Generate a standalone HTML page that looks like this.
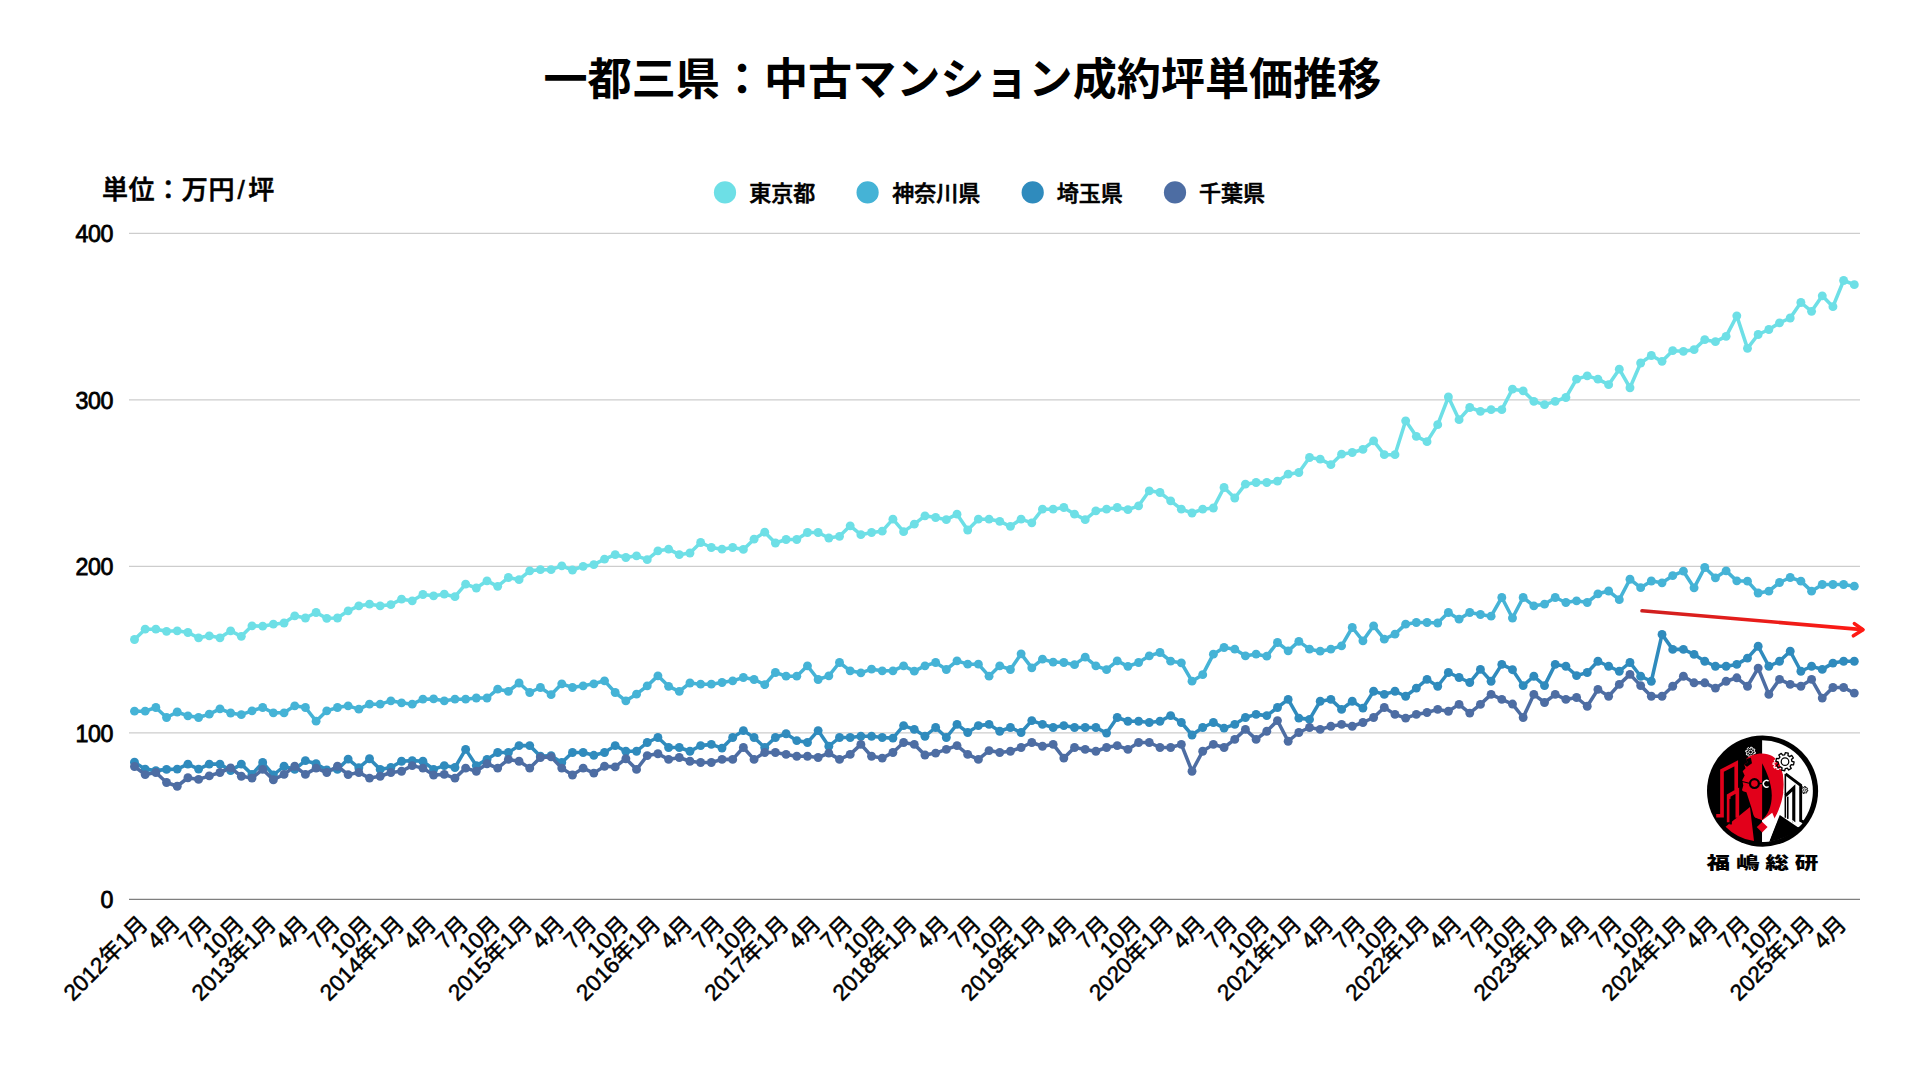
<!DOCTYPE html>
<html lang="ja"><head><meta charset="utf-8"><title>一都三県：中古マンション成約坪単価推移</title>
<style>html,body{margin:0;padding:0;background:#fff}body{width:1920px;height:1080px;overflow:hidden}svg{display:block}text{font-family:"Liberation Sans", "Noto Sans CJK JP", sans-serif;fill:#000}</style></head><body>
<svg width="1920" height="1080" viewBox="0 0 1920 1080">
<rect width="1920" height="1080" fill="#fff"/>
<text x="962.4" y="95" text-anchor="middle" font-size="44.1" font-weight="700">一都三県：中古マンション成約坪単価推移</text>
<text x="102" y="199" font-size="26" font-weight="500" stroke="#000" stroke-width="0.6" letter-spacing="0.6">単位：万円<tspan dx="2.5">/</tspan><tspan dx="3">坪</tspan></text>
<circle cx="725" cy="192.4" r="11.1" fill="#6ddfe6"/>
<text x="749.3" y="201" font-size="22" font-weight="500" stroke="#000" stroke-width="0.6">東京都</text>
<circle cx="867.6" cy="192.4" r="11.1" fill="#45b3d6"/>
<text x="892.3" y="201" font-size="22" font-weight="500" stroke="#000" stroke-width="0.6">神奈川県</text>
<circle cx="1032.7" cy="192.4" r="11.1" fill="#2f8bbd"/>
<text x="1056.7" y="201" font-size="22" font-weight="500" stroke="#000" stroke-width="0.6">埼玉県</text>
<circle cx="1175" cy="192.4" r="11.1" fill="#4d6da3"/>
<text x="1199" y="201" font-size="22" font-weight="500" stroke="#000" stroke-width="0.6">千葉県</text>
<line x1="129" x2="1860" y1="233.3" y2="233.3" stroke="#cdcdcd" stroke-width="1.2"/>
<text x="113" y="242.0" text-anchor="end" font-size="23.2" letter-spacing="-0.4" stroke="#000" stroke-width="0.8">400</text>
<line x1="129" x2="1860" y1="399.8" y2="399.8" stroke="#cdcdcd" stroke-width="1.2"/>
<text x="113" y="408.5" text-anchor="end" font-size="23.2" letter-spacing="-0.4" stroke="#000" stroke-width="0.8">300</text>
<line x1="129" x2="1860" y1="566.3" y2="566.3" stroke="#cdcdcd" stroke-width="1.2"/>
<text x="113" y="575.0" text-anchor="end" font-size="23.2" letter-spacing="-0.4" stroke="#000" stroke-width="0.8">200</text>
<line x1="129" x2="1860" y1="732.8" y2="732.8" stroke="#cdcdcd" stroke-width="1.2"/>
<text x="113" y="741.5" text-anchor="end" font-size="23.2" letter-spacing="-0.4" stroke="#000" stroke-width="0.8">100</text>
<line x1="129" x2="1860" y1="899.3" y2="899.3" stroke="#7f7f7f" stroke-width="1.3"/>
<text x="113" y="908.0" text-anchor="end" font-size="23.2" letter-spacing="-0.4" stroke="#000" stroke-width="0.8">0</text>
<text transform="translate(149.3 925.5) rotate(-45)" text-anchor="end" font-size="22.6" stroke="#000" stroke-width="0.5">2012年1月</text>
<text transform="translate(181.4 925.5) rotate(-45)" text-anchor="end" font-size="22.6" stroke="#000" stroke-width="0.5">4月</text>
<text transform="translate(213.4 925.5) rotate(-45)" text-anchor="end" font-size="22.6" stroke="#000" stroke-width="0.5">7月</text>
<text transform="translate(245.4 925.5) rotate(-45)" text-anchor="end" font-size="22.6" stroke="#000" stroke-width="0.5">10月</text>
<text transform="translate(277.5 925.5) rotate(-45)" text-anchor="end" font-size="22.6" stroke="#000" stroke-width="0.5">2013年1月</text>
<text transform="translate(309.5 925.5) rotate(-45)" text-anchor="end" font-size="22.6" stroke="#000" stroke-width="0.5">4月</text>
<text transform="translate(341.6 925.5) rotate(-45)" text-anchor="end" font-size="22.6" stroke="#000" stroke-width="0.5">7月</text>
<text transform="translate(373.6 925.5) rotate(-45)" text-anchor="end" font-size="22.6" stroke="#000" stroke-width="0.5">10月</text>
<text transform="translate(405.7 925.5) rotate(-45)" text-anchor="end" font-size="22.6" stroke="#000" stroke-width="0.5">2014年1月</text>
<text transform="translate(437.7 925.5) rotate(-45)" text-anchor="end" font-size="22.6" stroke="#000" stroke-width="0.5">4月</text>
<text transform="translate(469.8 925.5) rotate(-45)" text-anchor="end" font-size="22.6" stroke="#000" stroke-width="0.5">7月</text>
<text transform="translate(501.8 925.5) rotate(-45)" text-anchor="end" font-size="22.6" stroke="#000" stroke-width="0.5">10月</text>
<text transform="translate(533.8 925.5) rotate(-45)" text-anchor="end" font-size="22.6" stroke="#000" stroke-width="0.5">2015年1月</text>
<text transform="translate(565.9 925.5) rotate(-45)" text-anchor="end" font-size="22.6" stroke="#000" stroke-width="0.5">4月</text>
<text transform="translate(597.9 925.5) rotate(-45)" text-anchor="end" font-size="22.6" stroke="#000" stroke-width="0.5">7月</text>
<text transform="translate(630.0 925.5) rotate(-45)" text-anchor="end" font-size="22.6" stroke="#000" stroke-width="0.5">10月</text>
<text transform="translate(662.0 925.5) rotate(-45)" text-anchor="end" font-size="22.6" stroke="#000" stroke-width="0.5">2016年1月</text>
<text transform="translate(694.1 925.5) rotate(-45)" text-anchor="end" font-size="22.6" stroke="#000" stroke-width="0.5">4月</text>
<text transform="translate(726.1 925.5) rotate(-45)" text-anchor="end" font-size="22.6" stroke="#000" stroke-width="0.5">7月</text>
<text transform="translate(758.2 925.5) rotate(-45)" text-anchor="end" font-size="22.6" stroke="#000" stroke-width="0.5">10月</text>
<text transform="translate(790.2 925.5) rotate(-45)" text-anchor="end" font-size="22.6" stroke="#000" stroke-width="0.5">2017年1月</text>
<text transform="translate(822.3 925.5) rotate(-45)" text-anchor="end" font-size="22.6" stroke="#000" stroke-width="0.5">4月</text>
<text transform="translate(854.3 925.5) rotate(-45)" text-anchor="end" font-size="22.6" stroke="#000" stroke-width="0.5">7月</text>
<text transform="translate(886.4 925.5) rotate(-45)" text-anchor="end" font-size="22.6" stroke="#000" stroke-width="0.5">10月</text>
<text transform="translate(918.4 925.5) rotate(-45)" text-anchor="end" font-size="22.6" stroke="#000" stroke-width="0.5">2018年1月</text>
<text transform="translate(950.4 925.5) rotate(-45)" text-anchor="end" font-size="22.6" stroke="#000" stroke-width="0.5">4月</text>
<text transform="translate(982.5 925.5) rotate(-45)" text-anchor="end" font-size="22.6" stroke="#000" stroke-width="0.5">7月</text>
<text transform="translate(1014.5 925.5) rotate(-45)" text-anchor="end" font-size="22.6" stroke="#000" stroke-width="0.5">10月</text>
<text transform="translate(1046.6 925.5) rotate(-45)" text-anchor="end" font-size="22.6" stroke="#000" stroke-width="0.5">2019年1月</text>
<text transform="translate(1078.6 925.5) rotate(-45)" text-anchor="end" font-size="22.6" stroke="#000" stroke-width="0.5">4月</text>
<text transform="translate(1110.7 925.5) rotate(-45)" text-anchor="end" font-size="22.6" stroke="#000" stroke-width="0.5">7月</text>
<text transform="translate(1142.7 925.5) rotate(-45)" text-anchor="end" font-size="22.6" stroke="#000" stroke-width="0.5">10月</text>
<text transform="translate(1174.8 925.5) rotate(-45)" text-anchor="end" font-size="22.6" stroke="#000" stroke-width="0.5">2020年1月</text>
<text transform="translate(1206.8 925.5) rotate(-45)" text-anchor="end" font-size="22.6" stroke="#000" stroke-width="0.5">4月</text>
<text transform="translate(1238.9 925.5) rotate(-45)" text-anchor="end" font-size="22.6" stroke="#000" stroke-width="0.5">7月</text>
<text transform="translate(1270.9 925.5) rotate(-45)" text-anchor="end" font-size="22.6" stroke="#000" stroke-width="0.5">10月</text>
<text transform="translate(1303.0 925.5) rotate(-45)" text-anchor="end" font-size="22.6" stroke="#000" stroke-width="0.5">2021年1月</text>
<text transform="translate(1335.0 925.5) rotate(-45)" text-anchor="end" font-size="22.6" stroke="#000" stroke-width="0.5">4月</text>
<text transform="translate(1367.0 925.5) rotate(-45)" text-anchor="end" font-size="22.6" stroke="#000" stroke-width="0.5">7月</text>
<text transform="translate(1399.1 925.5) rotate(-45)" text-anchor="end" font-size="22.6" stroke="#000" stroke-width="0.5">10月</text>
<text transform="translate(1431.1 925.5) rotate(-45)" text-anchor="end" font-size="22.6" stroke="#000" stroke-width="0.5">2022年1月</text>
<text transform="translate(1463.2 925.5) rotate(-45)" text-anchor="end" font-size="22.6" stroke="#000" stroke-width="0.5">4月</text>
<text transform="translate(1495.2 925.5) rotate(-45)" text-anchor="end" font-size="22.6" stroke="#000" stroke-width="0.5">7月</text>
<text transform="translate(1527.3 925.5) rotate(-45)" text-anchor="end" font-size="22.6" stroke="#000" stroke-width="0.5">10月</text>
<text transform="translate(1559.3 925.5) rotate(-45)" text-anchor="end" font-size="22.6" stroke="#000" stroke-width="0.5">2023年1月</text>
<text transform="translate(1591.4 925.5) rotate(-45)" text-anchor="end" font-size="22.6" stroke="#000" stroke-width="0.5">4月</text>
<text transform="translate(1623.4 925.5) rotate(-45)" text-anchor="end" font-size="22.6" stroke="#000" stroke-width="0.5">7月</text>
<text transform="translate(1655.5 925.5) rotate(-45)" text-anchor="end" font-size="22.6" stroke="#000" stroke-width="0.5">10月</text>
<text transform="translate(1687.5 925.5) rotate(-45)" text-anchor="end" font-size="22.6" stroke="#000" stroke-width="0.5">2024年1月</text>
<text transform="translate(1719.5 925.5) rotate(-45)" text-anchor="end" font-size="22.6" stroke="#000" stroke-width="0.5">4月</text>
<text transform="translate(1751.6 925.5) rotate(-45)" text-anchor="end" font-size="22.6" stroke="#000" stroke-width="0.5">7月</text>
<text transform="translate(1783.6 925.5) rotate(-45)" text-anchor="end" font-size="22.6" stroke="#000" stroke-width="0.5">10月</text>
<text transform="translate(1815.7 925.5) rotate(-45)" text-anchor="end" font-size="22.6" stroke="#000" stroke-width="0.5">2025年1月</text>
<text transform="translate(1847.7 925.5) rotate(-45)" text-anchor="end" font-size="22.6" stroke="#000" stroke-width="0.5">4月</text>
<g fill="#6ddfe6" stroke="none">
<polyline points="134.5,639.5 145.18,629.17 155.86,629.17 166.55,631.33 177.23,630.83 187.91,632.5 198.59,637.83 209.27,635.83 219.96,637.83 230.64,630.83 241.32,636.33 252.0,625.83 262.68,626.17 273.37,624.17 284.05,623.0 294.73,615.83 305.41,618.0 316.09,612.5 326.78,618.33 337.46,618.0 348.14,610.83 358.82,605.83 369.5,604.17 380.19,605.83 390.87,604.67 401.55,599.17 412.23,600.83 422.91,594.5 433.6,595.83 444.28,594.17 454.96,596.67 465.64,584.17 476.32,588.0 487.01,580.83 497.69,586.33 508.37,577.5 519.05,579.67 529.73,570.83 540.42,569.67 551.1,569.67 561.78,565.83 572.46,570.0 583.14,566.33 593.83,564.67 604.51,559.17 615.19,554.67 625.87,557.5 636.55,555.83 647.24,559.67 657.92,550.83 668.6,549.17 679.28,554.67 689.96,553.0 700.65,542.5 711.33,547.5 722.01,549.17 732.69,547.5 743.37,549.42 754.06,539.17 764.74,532.17 775.42,543.0 786.1,539.5 796.78,539.5 807.47,532.5 818.15,532.5 828.83,538.0 839.51,536.33 850.19,525.83 860.88,534.67 871.56,532.5 882.24,531.17 892.92,519.17 903.6,531.67 914.29,524.17 924.97,515.83 935.65,517.5 946.33,519.67 957.01,514.17 967.7,530.0 978.38,519.17 989.06,519.17 999.74,521.33 1010.42,526.33 1021.11,519.17 1031.79,522.83 1042.47,509.17 1053.15,509.17 1063.83,507.5 1074.52,514.17 1085.2,519.67 1095.88,510.83 1106.56,509.17 1117.24,507.5 1127.93,509.67 1138.61,505.83 1149.29,490.83 1159.97,492.5 1170.65,500.83 1181.34,509.17 1192.02,513.0 1202.7,509.17 1213.38,508.0 1224.06,487.5 1234.75,498.0 1245.43,484.17 1256.11,482.5 1266.79,482.5 1277.47,481.17 1288.16,474.17 1298.84,472.5 1309.52,457.5 1320.2,459.17 1330.88,464.67 1341.57,454.17 1352.25,452.5 1362.93,449.42 1373.61,440.83 1384.29,454.67 1394.98,454.67 1405.66,420.83 1416.34,436.33 1427.02,441.67 1437.7,424.67 1448.39,397.0 1459.07,419.67 1469.75,407.5 1480.43,411.33 1491.11,409.67 1501.8,409.67 1512.48,389.17 1523.16,390.83 1533.84,401.33 1544.52,404.67 1555.21,401.33 1565.89,397.5 1576.57,379.17 1587.25,375.83 1597.93,379.17 1608.62,384.67 1619.3,369.17 1629.98,387.75 1640.66,363.0 1651.34,355.5 1662.03,361.33 1672.71,350.66 1683.39,351.33 1694.07,349.67 1704.75,339.67 1715.44,341.67 1726.12,336.33 1736.8,315.83 1747.48,348.33 1758.16,334.5 1768.85,329.5 1779.53,322.83 1790.21,318.0 1800.89,302.5 1811.57,311.33 1822.26,295.83 1832.94,306.67 1843.62,280.5 1854.3,284.67" fill="none" stroke="#6ddfe6" stroke-width="3.55" stroke-linejoin="round" stroke-linecap="round"/>
<circle cx="134.5" cy="639.5" r="4.45"/>
<circle cx="145.18" cy="629.17" r="4.45"/>
<circle cx="155.86" cy="629.17" r="4.45"/>
<circle cx="166.55" cy="631.33" r="4.45"/>
<circle cx="177.23" cy="630.83" r="4.45"/>
<circle cx="187.91" cy="632.5" r="4.45"/>
<circle cx="198.59" cy="637.83" r="4.45"/>
<circle cx="209.27" cy="635.83" r="4.45"/>
<circle cx="219.96" cy="637.83" r="4.45"/>
<circle cx="230.64" cy="630.83" r="4.45"/>
<circle cx="241.32" cy="636.33" r="4.45"/>
<circle cx="252.0" cy="625.83" r="4.45"/>
<circle cx="262.68" cy="626.17" r="4.45"/>
<circle cx="273.37" cy="624.17" r="4.45"/>
<circle cx="284.05" cy="623.0" r="4.45"/>
<circle cx="294.73" cy="615.83" r="4.45"/>
<circle cx="305.41" cy="618.0" r="4.45"/>
<circle cx="316.09" cy="612.5" r="4.45"/>
<circle cx="326.78" cy="618.33" r="4.45"/>
<circle cx="337.46" cy="618.0" r="4.45"/>
<circle cx="348.14" cy="610.83" r="4.45"/>
<circle cx="358.82" cy="605.83" r="4.45"/>
<circle cx="369.5" cy="604.17" r="4.45"/>
<circle cx="380.19" cy="605.83" r="4.45"/>
<circle cx="390.87" cy="604.67" r="4.45"/>
<circle cx="401.55" cy="599.17" r="4.45"/>
<circle cx="412.23" cy="600.83" r="4.45"/>
<circle cx="422.91" cy="594.5" r="4.45"/>
<circle cx="433.6" cy="595.83" r="4.45"/>
<circle cx="444.28" cy="594.17" r="4.45"/>
<circle cx="454.96" cy="596.67" r="4.45"/>
<circle cx="465.64" cy="584.17" r="4.45"/>
<circle cx="476.32" cy="588.0" r="4.45"/>
<circle cx="487.01" cy="580.83" r="4.45"/>
<circle cx="497.69" cy="586.33" r="4.45"/>
<circle cx="508.37" cy="577.5" r="4.45"/>
<circle cx="519.05" cy="579.67" r="4.45"/>
<circle cx="529.73" cy="570.83" r="4.45"/>
<circle cx="540.42" cy="569.67" r="4.45"/>
<circle cx="551.1" cy="569.67" r="4.45"/>
<circle cx="561.78" cy="565.83" r="4.45"/>
<circle cx="572.46" cy="570.0" r="4.45"/>
<circle cx="583.14" cy="566.33" r="4.45"/>
<circle cx="593.83" cy="564.67" r="4.45"/>
<circle cx="604.51" cy="559.17" r="4.45"/>
<circle cx="615.19" cy="554.67" r="4.45"/>
<circle cx="625.87" cy="557.5" r="4.45"/>
<circle cx="636.55" cy="555.83" r="4.45"/>
<circle cx="647.24" cy="559.67" r="4.45"/>
<circle cx="657.92" cy="550.83" r="4.45"/>
<circle cx="668.6" cy="549.17" r="4.45"/>
<circle cx="679.28" cy="554.67" r="4.45"/>
<circle cx="689.96" cy="553.0" r="4.45"/>
<circle cx="700.65" cy="542.5" r="4.45"/>
<circle cx="711.33" cy="547.5" r="4.45"/>
<circle cx="722.01" cy="549.17" r="4.45"/>
<circle cx="732.69" cy="547.5" r="4.45"/>
<circle cx="743.37" cy="549.42" r="4.45"/>
<circle cx="754.06" cy="539.17" r="4.45"/>
<circle cx="764.74" cy="532.17" r="4.45"/>
<circle cx="775.42" cy="543.0" r="4.45"/>
<circle cx="786.1" cy="539.5" r="4.45"/>
<circle cx="796.78" cy="539.5" r="4.45"/>
<circle cx="807.47" cy="532.5" r="4.45"/>
<circle cx="818.15" cy="532.5" r="4.45"/>
<circle cx="828.83" cy="538.0" r="4.45"/>
<circle cx="839.51" cy="536.33" r="4.45"/>
<circle cx="850.19" cy="525.83" r="4.45"/>
<circle cx="860.88" cy="534.67" r="4.45"/>
<circle cx="871.56" cy="532.5" r="4.45"/>
<circle cx="882.24" cy="531.17" r="4.45"/>
<circle cx="892.92" cy="519.17" r="4.45"/>
<circle cx="903.6" cy="531.67" r="4.45"/>
<circle cx="914.29" cy="524.17" r="4.45"/>
<circle cx="924.97" cy="515.83" r="4.45"/>
<circle cx="935.65" cy="517.5" r="4.45"/>
<circle cx="946.33" cy="519.67" r="4.45"/>
<circle cx="957.01" cy="514.17" r="4.45"/>
<circle cx="967.7" cy="530.0" r="4.45"/>
<circle cx="978.38" cy="519.17" r="4.45"/>
<circle cx="989.06" cy="519.17" r="4.45"/>
<circle cx="999.74" cy="521.33" r="4.45"/>
<circle cx="1010.42" cy="526.33" r="4.45"/>
<circle cx="1021.11" cy="519.17" r="4.45"/>
<circle cx="1031.79" cy="522.83" r="4.45"/>
<circle cx="1042.47" cy="509.17" r="4.45"/>
<circle cx="1053.15" cy="509.17" r="4.45"/>
<circle cx="1063.83" cy="507.5" r="4.45"/>
<circle cx="1074.52" cy="514.17" r="4.45"/>
<circle cx="1085.2" cy="519.67" r="4.45"/>
<circle cx="1095.88" cy="510.83" r="4.45"/>
<circle cx="1106.56" cy="509.17" r="4.45"/>
<circle cx="1117.24" cy="507.5" r="4.45"/>
<circle cx="1127.93" cy="509.67" r="4.45"/>
<circle cx="1138.61" cy="505.83" r="4.45"/>
<circle cx="1149.29" cy="490.83" r="4.45"/>
<circle cx="1159.97" cy="492.5" r="4.45"/>
<circle cx="1170.65" cy="500.83" r="4.45"/>
<circle cx="1181.34" cy="509.17" r="4.45"/>
<circle cx="1192.02" cy="513.0" r="4.45"/>
<circle cx="1202.7" cy="509.17" r="4.45"/>
<circle cx="1213.38" cy="508.0" r="4.45"/>
<circle cx="1224.06" cy="487.5" r="4.45"/>
<circle cx="1234.75" cy="498.0" r="4.45"/>
<circle cx="1245.43" cy="484.17" r="4.45"/>
<circle cx="1256.11" cy="482.5" r="4.45"/>
<circle cx="1266.79" cy="482.5" r="4.45"/>
<circle cx="1277.47" cy="481.17" r="4.45"/>
<circle cx="1288.16" cy="474.17" r="4.45"/>
<circle cx="1298.84" cy="472.5" r="4.45"/>
<circle cx="1309.52" cy="457.5" r="4.45"/>
<circle cx="1320.2" cy="459.17" r="4.45"/>
<circle cx="1330.88" cy="464.67" r="4.45"/>
<circle cx="1341.57" cy="454.17" r="4.45"/>
<circle cx="1352.25" cy="452.5" r="4.45"/>
<circle cx="1362.93" cy="449.42" r="4.45"/>
<circle cx="1373.61" cy="440.83" r="4.45"/>
<circle cx="1384.29" cy="454.67" r="4.45"/>
<circle cx="1394.98" cy="454.67" r="4.45"/>
<circle cx="1405.66" cy="420.83" r="4.45"/>
<circle cx="1416.34" cy="436.33" r="4.45"/>
<circle cx="1427.02" cy="441.67" r="4.45"/>
<circle cx="1437.7" cy="424.67" r="4.45"/>
<circle cx="1448.39" cy="397.0" r="4.45"/>
<circle cx="1459.07" cy="419.67" r="4.45"/>
<circle cx="1469.75" cy="407.5" r="4.45"/>
<circle cx="1480.43" cy="411.33" r="4.45"/>
<circle cx="1491.11" cy="409.67" r="4.45"/>
<circle cx="1501.8" cy="409.67" r="4.45"/>
<circle cx="1512.48" cy="389.17" r="4.45"/>
<circle cx="1523.16" cy="390.83" r="4.45"/>
<circle cx="1533.84" cy="401.33" r="4.45"/>
<circle cx="1544.52" cy="404.67" r="4.45"/>
<circle cx="1555.21" cy="401.33" r="4.45"/>
<circle cx="1565.89" cy="397.5" r="4.45"/>
<circle cx="1576.57" cy="379.17" r="4.45"/>
<circle cx="1587.25" cy="375.83" r="4.45"/>
<circle cx="1597.93" cy="379.17" r="4.45"/>
<circle cx="1608.62" cy="384.67" r="4.45"/>
<circle cx="1619.3" cy="369.17" r="4.45"/>
<circle cx="1629.98" cy="387.75" r="4.45"/>
<circle cx="1640.66" cy="363.0" r="4.45"/>
<circle cx="1651.34" cy="355.5" r="4.45"/>
<circle cx="1662.03" cy="361.33" r="4.45"/>
<circle cx="1672.71" cy="350.66" r="4.45"/>
<circle cx="1683.39" cy="351.33" r="4.45"/>
<circle cx="1694.07" cy="349.67" r="4.45"/>
<circle cx="1704.75" cy="339.67" r="4.45"/>
<circle cx="1715.44" cy="341.67" r="4.45"/>
<circle cx="1726.12" cy="336.33" r="4.45"/>
<circle cx="1736.8" cy="315.83" r="4.45"/>
<circle cx="1747.48" cy="348.33" r="4.45"/>
<circle cx="1758.16" cy="334.5" r="4.45"/>
<circle cx="1768.85" cy="329.5" r="4.45"/>
<circle cx="1779.53" cy="322.83" r="4.45"/>
<circle cx="1790.21" cy="318.0" r="4.45"/>
<circle cx="1800.89" cy="302.5" r="4.45"/>
<circle cx="1811.57" cy="311.33" r="4.45"/>
<circle cx="1822.26" cy="295.83" r="4.45"/>
<circle cx="1832.94" cy="306.67" r="4.45"/>
<circle cx="1843.62" cy="280.5" r="4.45"/>
<circle cx="1854.3" cy="284.67" r="4.45"/>
</g>
<g fill="#45b3d6" stroke="none">
<polyline points="134.5,711.17 145.18,711.17 155.86,707.5 166.55,717.5 177.23,712.0 187.91,715.83 198.59,717.5 209.27,714.17 219.96,708.83 230.64,713.0 241.32,714.67 252.0,710.83 262.68,707.5 273.37,712.83 284.05,712.83 294.73,705.83 305.41,707.5 316.09,721.17 326.78,710.83 337.46,707.5 348.14,705.83 358.82,709.17 369.5,704.17 380.19,704.17 390.87,700.83 401.55,702.83 412.23,704.17 422.91,699.17 433.6,698.92 444.28,700.83 454.96,699.17 465.64,699.17 476.32,698.0 487.01,698.0 497.69,689.17 508.37,691.33 519.05,683.0 529.73,692.5 540.42,687.5 551.1,694.67 561.78,683.83 572.46,687.5 583.14,685.83 593.83,683.83 604.51,680.83 615.19,692.5 625.87,700.83 636.55,694.17 647.24,685.83 657.92,675.83 668.6,686.33 679.28,691.33 689.96,683.0 700.65,684.17 711.33,684.17 722.01,682.5 732.69,680.83 743.37,677.5 754.06,679.5 764.74,684.67 775.42,672.5 786.1,676.17 796.78,676.17 807.47,665.83 818.15,679.5 828.83,675.83 839.51,662.5 850.19,670.83 860.88,672.83 871.56,669.17 882.24,670.83 892.92,670.83 903.6,665.83 914.29,671.17 924.97,665.83 935.65,662.5 946.33,669.5 957.01,660.83 967.7,664.17 978.38,664.17 989.06,676.17 999.74,665.83 1010.42,669.5 1021.11,653.83 1031.79,667.83 1042.47,659.17 1053.15,662.09 1063.83,662.5 1074.52,664.67 1085.2,657.17 1095.88,665.83 1106.56,669.67 1117.24,660.83 1127.93,666.33 1138.61,662.5 1149.29,655.83 1159.97,652.5 1170.65,661.17 1181.34,662.83 1192.02,681.17 1202.7,674.67 1213.38,654.17 1224.06,647.5 1234.75,649.17 1245.43,655.83 1256.11,654.17 1266.79,656.17 1277.47,642.5 1288.16,650.83 1298.84,641.33 1309.52,649.17 1320.2,651.17 1330.88,649.17 1341.57,645.83 1352.25,627.5 1362.93,640.83 1373.61,625.83 1384.29,639.17 1394.98,634.17 1405.66,624.17 1416.34,622.5 1427.02,622.5 1437.7,623.0 1448.39,612.5 1459.07,619.17 1469.75,612.5 1480.43,614.5 1491.11,616.17 1501.8,597.5 1512.48,618.0 1523.16,597.5 1533.84,605.83 1544.52,604.17 1555.21,597.5 1565.89,602.5 1576.57,600.83 1587.25,602.5 1597.93,593.83 1608.62,591.0 1619.3,599.67 1629.98,579.25 1640.66,587.66 1651.34,581.0 1662.03,582.83 1672.71,575.66 1683.39,571.17 1694.07,587.83 1704.75,567.5 1715.44,577.83 1726.12,570.83 1736.8,580.83 1747.48,581.17 1758.16,593.0 1768.85,591.17 1779.53,582.5 1790.21,577.5 1800.89,581.17 1811.57,591.17 1822.26,584.5 1832.94,584.5 1843.62,584.5 1854.3,586.17" fill="none" stroke="#45b3d6" stroke-width="3.55" stroke-linejoin="round" stroke-linecap="round"/>
<circle cx="134.5" cy="711.17" r="4.45"/>
<circle cx="145.18" cy="711.17" r="4.45"/>
<circle cx="155.86" cy="707.5" r="4.45"/>
<circle cx="166.55" cy="717.5" r="4.45"/>
<circle cx="177.23" cy="712.0" r="4.45"/>
<circle cx="187.91" cy="715.83" r="4.45"/>
<circle cx="198.59" cy="717.5" r="4.45"/>
<circle cx="209.27" cy="714.17" r="4.45"/>
<circle cx="219.96" cy="708.83" r="4.45"/>
<circle cx="230.64" cy="713.0" r="4.45"/>
<circle cx="241.32" cy="714.67" r="4.45"/>
<circle cx="252.0" cy="710.83" r="4.45"/>
<circle cx="262.68" cy="707.5" r="4.45"/>
<circle cx="273.37" cy="712.83" r="4.45"/>
<circle cx="284.05" cy="712.83" r="4.45"/>
<circle cx="294.73" cy="705.83" r="4.45"/>
<circle cx="305.41" cy="707.5" r="4.45"/>
<circle cx="316.09" cy="721.17" r="4.45"/>
<circle cx="326.78" cy="710.83" r="4.45"/>
<circle cx="337.46" cy="707.5" r="4.45"/>
<circle cx="348.14" cy="705.83" r="4.45"/>
<circle cx="358.82" cy="709.17" r="4.45"/>
<circle cx="369.5" cy="704.17" r="4.45"/>
<circle cx="380.19" cy="704.17" r="4.45"/>
<circle cx="390.87" cy="700.83" r="4.45"/>
<circle cx="401.55" cy="702.83" r="4.45"/>
<circle cx="412.23" cy="704.17" r="4.45"/>
<circle cx="422.91" cy="699.17" r="4.45"/>
<circle cx="433.6" cy="698.92" r="4.45"/>
<circle cx="444.28" cy="700.83" r="4.45"/>
<circle cx="454.96" cy="699.17" r="4.45"/>
<circle cx="465.64" cy="699.17" r="4.45"/>
<circle cx="476.32" cy="698.0" r="4.45"/>
<circle cx="487.01" cy="698.0" r="4.45"/>
<circle cx="497.69" cy="689.17" r="4.45"/>
<circle cx="508.37" cy="691.33" r="4.45"/>
<circle cx="519.05" cy="683.0" r="4.45"/>
<circle cx="529.73" cy="692.5" r="4.45"/>
<circle cx="540.42" cy="687.5" r="4.45"/>
<circle cx="551.1" cy="694.67" r="4.45"/>
<circle cx="561.78" cy="683.83" r="4.45"/>
<circle cx="572.46" cy="687.5" r="4.45"/>
<circle cx="583.14" cy="685.83" r="4.45"/>
<circle cx="593.83" cy="683.83" r="4.45"/>
<circle cx="604.51" cy="680.83" r="4.45"/>
<circle cx="615.19" cy="692.5" r="4.45"/>
<circle cx="625.87" cy="700.83" r="4.45"/>
<circle cx="636.55" cy="694.17" r="4.45"/>
<circle cx="647.24" cy="685.83" r="4.45"/>
<circle cx="657.92" cy="675.83" r="4.45"/>
<circle cx="668.6" cy="686.33" r="4.45"/>
<circle cx="679.28" cy="691.33" r="4.45"/>
<circle cx="689.96" cy="683.0" r="4.45"/>
<circle cx="700.65" cy="684.17" r="4.45"/>
<circle cx="711.33" cy="684.17" r="4.45"/>
<circle cx="722.01" cy="682.5" r="4.45"/>
<circle cx="732.69" cy="680.83" r="4.45"/>
<circle cx="743.37" cy="677.5" r="4.45"/>
<circle cx="754.06" cy="679.5" r="4.45"/>
<circle cx="764.74" cy="684.67" r="4.45"/>
<circle cx="775.42" cy="672.5" r="4.45"/>
<circle cx="786.1" cy="676.17" r="4.45"/>
<circle cx="796.78" cy="676.17" r="4.45"/>
<circle cx="807.47" cy="665.83" r="4.45"/>
<circle cx="818.15" cy="679.5" r="4.45"/>
<circle cx="828.83" cy="675.83" r="4.45"/>
<circle cx="839.51" cy="662.5" r="4.45"/>
<circle cx="850.19" cy="670.83" r="4.45"/>
<circle cx="860.88" cy="672.83" r="4.45"/>
<circle cx="871.56" cy="669.17" r="4.45"/>
<circle cx="882.24" cy="670.83" r="4.45"/>
<circle cx="892.92" cy="670.83" r="4.45"/>
<circle cx="903.6" cy="665.83" r="4.45"/>
<circle cx="914.29" cy="671.17" r="4.45"/>
<circle cx="924.97" cy="665.83" r="4.45"/>
<circle cx="935.65" cy="662.5" r="4.45"/>
<circle cx="946.33" cy="669.5" r="4.45"/>
<circle cx="957.01" cy="660.83" r="4.45"/>
<circle cx="967.7" cy="664.17" r="4.45"/>
<circle cx="978.38" cy="664.17" r="4.45"/>
<circle cx="989.06" cy="676.17" r="4.45"/>
<circle cx="999.74" cy="665.83" r="4.45"/>
<circle cx="1010.42" cy="669.5" r="4.45"/>
<circle cx="1021.11" cy="653.83" r="4.45"/>
<circle cx="1031.79" cy="667.83" r="4.45"/>
<circle cx="1042.47" cy="659.17" r="4.45"/>
<circle cx="1053.15" cy="662.09" r="4.45"/>
<circle cx="1063.83" cy="662.5" r="4.45"/>
<circle cx="1074.52" cy="664.67" r="4.45"/>
<circle cx="1085.2" cy="657.17" r="4.45"/>
<circle cx="1095.88" cy="665.83" r="4.45"/>
<circle cx="1106.56" cy="669.67" r="4.45"/>
<circle cx="1117.24" cy="660.83" r="4.45"/>
<circle cx="1127.93" cy="666.33" r="4.45"/>
<circle cx="1138.61" cy="662.5" r="4.45"/>
<circle cx="1149.29" cy="655.83" r="4.45"/>
<circle cx="1159.97" cy="652.5" r="4.45"/>
<circle cx="1170.65" cy="661.17" r="4.45"/>
<circle cx="1181.34" cy="662.83" r="4.45"/>
<circle cx="1192.02" cy="681.17" r="4.45"/>
<circle cx="1202.7" cy="674.67" r="4.45"/>
<circle cx="1213.38" cy="654.17" r="4.45"/>
<circle cx="1224.06" cy="647.5" r="4.45"/>
<circle cx="1234.75" cy="649.17" r="4.45"/>
<circle cx="1245.43" cy="655.83" r="4.45"/>
<circle cx="1256.11" cy="654.17" r="4.45"/>
<circle cx="1266.79" cy="656.17" r="4.45"/>
<circle cx="1277.47" cy="642.5" r="4.45"/>
<circle cx="1288.16" cy="650.83" r="4.45"/>
<circle cx="1298.84" cy="641.33" r="4.45"/>
<circle cx="1309.52" cy="649.17" r="4.45"/>
<circle cx="1320.2" cy="651.17" r="4.45"/>
<circle cx="1330.88" cy="649.17" r="4.45"/>
<circle cx="1341.57" cy="645.83" r="4.45"/>
<circle cx="1352.25" cy="627.5" r="4.45"/>
<circle cx="1362.93" cy="640.83" r="4.45"/>
<circle cx="1373.61" cy="625.83" r="4.45"/>
<circle cx="1384.29" cy="639.17" r="4.45"/>
<circle cx="1394.98" cy="634.17" r="4.45"/>
<circle cx="1405.66" cy="624.17" r="4.45"/>
<circle cx="1416.34" cy="622.5" r="4.45"/>
<circle cx="1427.02" cy="622.5" r="4.45"/>
<circle cx="1437.7" cy="623.0" r="4.45"/>
<circle cx="1448.39" cy="612.5" r="4.45"/>
<circle cx="1459.07" cy="619.17" r="4.45"/>
<circle cx="1469.75" cy="612.5" r="4.45"/>
<circle cx="1480.43" cy="614.5" r="4.45"/>
<circle cx="1491.11" cy="616.17" r="4.45"/>
<circle cx="1501.8" cy="597.5" r="4.45"/>
<circle cx="1512.48" cy="618.0" r="4.45"/>
<circle cx="1523.16" cy="597.5" r="4.45"/>
<circle cx="1533.84" cy="605.83" r="4.45"/>
<circle cx="1544.52" cy="604.17" r="4.45"/>
<circle cx="1555.21" cy="597.5" r="4.45"/>
<circle cx="1565.89" cy="602.5" r="4.45"/>
<circle cx="1576.57" cy="600.83" r="4.45"/>
<circle cx="1587.25" cy="602.5" r="4.45"/>
<circle cx="1597.93" cy="593.83" r="4.45"/>
<circle cx="1608.62" cy="591.0" r="4.45"/>
<circle cx="1619.3" cy="599.67" r="4.45"/>
<circle cx="1629.98" cy="579.25" r="4.45"/>
<circle cx="1640.66" cy="587.66" r="4.45"/>
<circle cx="1651.34" cy="581.0" r="4.45"/>
<circle cx="1662.03" cy="582.83" r="4.45"/>
<circle cx="1672.71" cy="575.66" r="4.45"/>
<circle cx="1683.39" cy="571.17" r="4.45"/>
<circle cx="1694.07" cy="587.83" r="4.45"/>
<circle cx="1704.75" cy="567.5" r="4.45"/>
<circle cx="1715.44" cy="577.83" r="4.45"/>
<circle cx="1726.12" cy="570.83" r="4.45"/>
<circle cx="1736.8" cy="580.83" r="4.45"/>
<circle cx="1747.48" cy="581.17" r="4.45"/>
<circle cx="1758.16" cy="593.0" r="4.45"/>
<circle cx="1768.85" cy="591.17" r="4.45"/>
<circle cx="1779.53" cy="582.5" r="4.45"/>
<circle cx="1790.21" cy="577.5" r="4.45"/>
<circle cx="1800.89" cy="581.17" r="4.45"/>
<circle cx="1811.57" cy="591.17" r="4.45"/>
<circle cx="1822.26" cy="584.5" r="4.45"/>
<circle cx="1832.94" cy="584.5" r="4.45"/>
<circle cx="1843.62" cy="584.5" r="4.45"/>
<circle cx="1854.3" cy="586.17" r="4.45"/>
</g>
<g fill="#2f8bbd" stroke="none">
<polyline points="134.5,762.25 145.18,769.12 155.86,770.62 166.55,769.38 177.23,769.12 187.91,764.12 198.59,769.12 209.27,764.12 219.96,764.12 230.64,770.62 241.32,764.12 252.0,774.38 262.68,762.5 273.37,775.0 284.05,766.25 294.73,769.38 305.41,760.62 316.09,763.75 326.78,770.0 337.46,769.38 348.14,759.12 358.82,767.81 369.5,758.75 380.19,769.38 390.87,767.5 401.55,761.25 412.23,760.62 422.91,761.25 433.6,769.38 444.28,765.62 454.96,767.5 465.64,749.38 476.32,765.62 487.01,759.38 497.69,752.5 508.37,752.5 519.05,745.62 529.73,745.62 540.42,756.25 551.1,755.62 561.78,762.5 572.46,752.5 583.14,752.5 593.83,755.31 604.51,752.5 615.19,745.62 625.87,751.25 636.55,751.25 647.24,742.5 657.92,737.5 668.6,747.5 679.28,747.5 689.96,751.25 700.65,745.62 711.33,744.38 722.01,748.12 732.69,737.5 743.37,730.62 754.06,737.5 764.74,747.5 775.42,737.5 786.1,733.75 796.78,740.62 807.47,742.5 818.15,730.62 828.83,746.25 839.51,737.5 850.19,737.5 860.88,736.25 871.56,736.25 882.24,737.5 892.92,738.12 903.6,725.62 914.29,729.38 924.97,736.25 935.65,727.5 946.33,737.5 957.01,724.38 967.7,732.5 978.38,725.62 989.06,724.38 999.74,731.25 1010.42,727.5 1021.11,732.5 1031.79,720.62 1042.47,724.38 1053.15,727.5 1063.83,725.62 1074.52,727.5 1085.2,727.5 1095.88,727.5 1106.56,733.12 1117.24,717.5 1127.93,721.25 1138.61,721.25 1149.29,722.5 1159.97,721.25 1170.65,715.62 1181.34,722.5 1192.02,735.0 1202.7,727.5 1213.38,722.5 1224.06,728.12 1234.75,724.38 1245.43,717.5 1256.11,714.38 1266.79,715.62 1277.47,707.5 1288.16,699.38 1298.84,718.12 1309.52,719.38 1320.2,701.25 1330.88,699.38 1341.57,709.38 1352.25,701.25 1362.93,708.12 1373.61,691.25 1384.29,694.38 1394.98,691.25 1405.66,696.25 1416.34,688.12 1427.02,679.38 1437.7,686.25 1448.39,672.5 1459.07,677.5 1469.75,682.5 1480.43,669.38 1491.11,681.25 1501.8,664.38 1512.48,669.69 1523.16,685.62 1533.84,676.25 1544.52,685.62 1555.21,664.38 1565.89,666.25 1576.57,675.62 1587.25,672.5 1597.93,661.25 1608.62,666.25 1619.3,671.25 1629.98,662.5 1640.66,676.25 1651.34,681.25 1662.03,634.38 1672.71,649.38 1683.39,649.38 1694.07,654.38 1704.75,661.25 1715.44,666.25 1726.12,666.25 1736.8,664.38 1747.48,658.12 1758.16,646.25 1768.85,666.25 1779.53,661.25 1790.21,651.25 1800.89,671.25 1811.57,666.25 1822.26,669.38 1832.94,663.12 1843.62,661.25 1854.3,661.25" fill="none" stroke="#2f8bbd" stroke-width="3.55" stroke-linejoin="round" stroke-linecap="round"/>
<circle cx="134.5" cy="762.25" r="4.45"/>
<circle cx="145.18" cy="769.12" r="4.45"/>
<circle cx="155.86" cy="770.62" r="4.45"/>
<circle cx="166.55" cy="769.38" r="4.45"/>
<circle cx="177.23" cy="769.12" r="4.45"/>
<circle cx="187.91" cy="764.12" r="4.45"/>
<circle cx="198.59" cy="769.12" r="4.45"/>
<circle cx="209.27" cy="764.12" r="4.45"/>
<circle cx="219.96" cy="764.12" r="4.45"/>
<circle cx="230.64" cy="770.62" r="4.45"/>
<circle cx="241.32" cy="764.12" r="4.45"/>
<circle cx="252.0" cy="774.38" r="4.45"/>
<circle cx="262.68" cy="762.5" r="4.45"/>
<circle cx="273.37" cy="775.0" r="4.45"/>
<circle cx="284.05" cy="766.25" r="4.45"/>
<circle cx="294.73" cy="769.38" r="4.45"/>
<circle cx="305.41" cy="760.62" r="4.45"/>
<circle cx="316.09" cy="763.75" r="4.45"/>
<circle cx="326.78" cy="770.0" r="4.45"/>
<circle cx="337.46" cy="769.38" r="4.45"/>
<circle cx="348.14" cy="759.12" r="4.45"/>
<circle cx="358.82" cy="767.81" r="4.45"/>
<circle cx="369.5" cy="758.75" r="4.45"/>
<circle cx="380.19" cy="769.38" r="4.45"/>
<circle cx="390.87" cy="767.5" r="4.45"/>
<circle cx="401.55" cy="761.25" r="4.45"/>
<circle cx="412.23" cy="760.62" r="4.45"/>
<circle cx="422.91" cy="761.25" r="4.45"/>
<circle cx="433.6" cy="769.38" r="4.45"/>
<circle cx="444.28" cy="765.62" r="4.45"/>
<circle cx="454.96" cy="767.5" r="4.45"/>
<circle cx="465.64" cy="749.38" r="4.45"/>
<circle cx="476.32" cy="765.62" r="4.45"/>
<circle cx="487.01" cy="759.38" r="4.45"/>
<circle cx="497.69" cy="752.5" r="4.45"/>
<circle cx="508.37" cy="752.5" r="4.45"/>
<circle cx="519.05" cy="745.62" r="4.45"/>
<circle cx="529.73" cy="745.62" r="4.45"/>
<circle cx="540.42" cy="756.25" r="4.45"/>
<circle cx="551.1" cy="755.62" r="4.45"/>
<circle cx="561.78" cy="762.5" r="4.45"/>
<circle cx="572.46" cy="752.5" r="4.45"/>
<circle cx="583.14" cy="752.5" r="4.45"/>
<circle cx="593.83" cy="755.31" r="4.45"/>
<circle cx="604.51" cy="752.5" r="4.45"/>
<circle cx="615.19" cy="745.62" r="4.45"/>
<circle cx="625.87" cy="751.25" r="4.45"/>
<circle cx="636.55" cy="751.25" r="4.45"/>
<circle cx="647.24" cy="742.5" r="4.45"/>
<circle cx="657.92" cy="737.5" r="4.45"/>
<circle cx="668.6" cy="747.5" r="4.45"/>
<circle cx="679.28" cy="747.5" r="4.45"/>
<circle cx="689.96" cy="751.25" r="4.45"/>
<circle cx="700.65" cy="745.62" r="4.45"/>
<circle cx="711.33" cy="744.38" r="4.45"/>
<circle cx="722.01" cy="748.12" r="4.45"/>
<circle cx="732.69" cy="737.5" r="4.45"/>
<circle cx="743.37" cy="730.62" r="4.45"/>
<circle cx="754.06" cy="737.5" r="4.45"/>
<circle cx="764.74" cy="747.5" r="4.45"/>
<circle cx="775.42" cy="737.5" r="4.45"/>
<circle cx="786.1" cy="733.75" r="4.45"/>
<circle cx="796.78" cy="740.62" r="4.45"/>
<circle cx="807.47" cy="742.5" r="4.45"/>
<circle cx="818.15" cy="730.62" r="4.45"/>
<circle cx="828.83" cy="746.25" r="4.45"/>
<circle cx="839.51" cy="737.5" r="4.45"/>
<circle cx="850.19" cy="737.5" r="4.45"/>
<circle cx="860.88" cy="736.25" r="4.45"/>
<circle cx="871.56" cy="736.25" r="4.45"/>
<circle cx="882.24" cy="737.5" r="4.45"/>
<circle cx="892.92" cy="738.12" r="4.45"/>
<circle cx="903.6" cy="725.62" r="4.45"/>
<circle cx="914.29" cy="729.38" r="4.45"/>
<circle cx="924.97" cy="736.25" r="4.45"/>
<circle cx="935.65" cy="727.5" r="4.45"/>
<circle cx="946.33" cy="737.5" r="4.45"/>
<circle cx="957.01" cy="724.38" r="4.45"/>
<circle cx="967.7" cy="732.5" r="4.45"/>
<circle cx="978.38" cy="725.62" r="4.45"/>
<circle cx="989.06" cy="724.38" r="4.45"/>
<circle cx="999.74" cy="731.25" r="4.45"/>
<circle cx="1010.42" cy="727.5" r="4.45"/>
<circle cx="1021.11" cy="732.5" r="4.45"/>
<circle cx="1031.79" cy="720.62" r="4.45"/>
<circle cx="1042.47" cy="724.38" r="4.45"/>
<circle cx="1053.15" cy="727.5" r="4.45"/>
<circle cx="1063.83" cy="725.62" r="4.45"/>
<circle cx="1074.52" cy="727.5" r="4.45"/>
<circle cx="1085.2" cy="727.5" r="4.45"/>
<circle cx="1095.88" cy="727.5" r="4.45"/>
<circle cx="1106.56" cy="733.12" r="4.45"/>
<circle cx="1117.24" cy="717.5" r="4.45"/>
<circle cx="1127.93" cy="721.25" r="4.45"/>
<circle cx="1138.61" cy="721.25" r="4.45"/>
<circle cx="1149.29" cy="722.5" r="4.45"/>
<circle cx="1159.97" cy="721.25" r="4.45"/>
<circle cx="1170.65" cy="715.62" r="4.45"/>
<circle cx="1181.34" cy="722.5" r="4.45"/>
<circle cx="1192.02" cy="735.0" r="4.45"/>
<circle cx="1202.7" cy="727.5" r="4.45"/>
<circle cx="1213.38" cy="722.5" r="4.45"/>
<circle cx="1224.06" cy="728.12" r="4.45"/>
<circle cx="1234.75" cy="724.38" r="4.45"/>
<circle cx="1245.43" cy="717.5" r="4.45"/>
<circle cx="1256.11" cy="714.38" r="4.45"/>
<circle cx="1266.79" cy="715.62" r="4.45"/>
<circle cx="1277.47" cy="707.5" r="4.45"/>
<circle cx="1288.16" cy="699.38" r="4.45"/>
<circle cx="1298.84" cy="718.12" r="4.45"/>
<circle cx="1309.52" cy="719.38" r="4.45"/>
<circle cx="1320.2" cy="701.25" r="4.45"/>
<circle cx="1330.88" cy="699.38" r="4.45"/>
<circle cx="1341.57" cy="709.38" r="4.45"/>
<circle cx="1352.25" cy="701.25" r="4.45"/>
<circle cx="1362.93" cy="708.12" r="4.45"/>
<circle cx="1373.61" cy="691.25" r="4.45"/>
<circle cx="1384.29" cy="694.38" r="4.45"/>
<circle cx="1394.98" cy="691.25" r="4.45"/>
<circle cx="1405.66" cy="696.25" r="4.45"/>
<circle cx="1416.34" cy="688.12" r="4.45"/>
<circle cx="1427.02" cy="679.38" r="4.45"/>
<circle cx="1437.7" cy="686.25" r="4.45"/>
<circle cx="1448.39" cy="672.5" r="4.45"/>
<circle cx="1459.07" cy="677.5" r="4.45"/>
<circle cx="1469.75" cy="682.5" r="4.45"/>
<circle cx="1480.43" cy="669.38" r="4.45"/>
<circle cx="1491.11" cy="681.25" r="4.45"/>
<circle cx="1501.8" cy="664.38" r="4.45"/>
<circle cx="1512.48" cy="669.69" r="4.45"/>
<circle cx="1523.16" cy="685.62" r="4.45"/>
<circle cx="1533.84" cy="676.25" r="4.45"/>
<circle cx="1544.52" cy="685.62" r="4.45"/>
<circle cx="1555.21" cy="664.38" r="4.45"/>
<circle cx="1565.89" cy="666.25" r="4.45"/>
<circle cx="1576.57" cy="675.62" r="4.45"/>
<circle cx="1587.25" cy="672.5" r="4.45"/>
<circle cx="1597.93" cy="661.25" r="4.45"/>
<circle cx="1608.62" cy="666.25" r="4.45"/>
<circle cx="1619.3" cy="671.25" r="4.45"/>
<circle cx="1629.98" cy="662.5" r="4.45"/>
<circle cx="1640.66" cy="676.25" r="4.45"/>
<circle cx="1651.34" cy="681.25" r="4.45"/>
<circle cx="1662.03" cy="634.38" r="4.45"/>
<circle cx="1672.71" cy="649.38" r="4.45"/>
<circle cx="1683.39" cy="649.38" r="4.45"/>
<circle cx="1694.07" cy="654.38" r="4.45"/>
<circle cx="1704.75" cy="661.25" r="4.45"/>
<circle cx="1715.44" cy="666.25" r="4.45"/>
<circle cx="1726.12" cy="666.25" r="4.45"/>
<circle cx="1736.8" cy="664.38" r="4.45"/>
<circle cx="1747.48" cy="658.12" r="4.45"/>
<circle cx="1758.16" cy="646.25" r="4.45"/>
<circle cx="1768.85" cy="666.25" r="4.45"/>
<circle cx="1779.53" cy="661.25" r="4.45"/>
<circle cx="1790.21" cy="651.25" r="4.45"/>
<circle cx="1800.89" cy="671.25" r="4.45"/>
<circle cx="1811.57" cy="666.25" r="4.45"/>
<circle cx="1822.26" cy="669.38" r="4.45"/>
<circle cx="1832.94" cy="663.12" r="4.45"/>
<circle cx="1843.62" cy="661.25" r="4.45"/>
<circle cx="1854.3" cy="661.25" r="4.45"/>
</g>
<g fill="#4d6da3" stroke="none">
<polyline points="134.5,766.5 145.18,774.62 155.86,772.5 166.55,782.5 177.23,786.25 187.91,777.75 198.59,779.38 209.27,775.88 219.96,772.5 230.64,767.88 241.32,776.25 252.0,778.12 262.68,769.38 273.37,779.75 284.05,774.38 294.73,766.25 305.41,774.38 316.09,768.12 326.78,772.5 337.46,766.25 348.14,774.62 358.82,772.5 369.5,778.12 380.19,776.25 390.87,772.5 401.55,771.25 412.23,765.62 422.91,768.12 433.6,775.0 444.28,774.38 454.96,778.12 465.64,768.12 476.32,771.25 487.01,763.75 497.69,768.12 508.37,759.38 519.05,761.25 529.73,768.12 540.42,757.5 551.1,756.88 561.78,768.12 572.46,775.0 583.14,768.12 593.83,773.12 604.51,766.25 615.19,766.88 625.87,758.75 636.55,769.38 647.24,755.62 657.92,753.75 668.6,759.38 679.28,757.5 689.96,761.25 700.65,762.5 711.33,762.5 722.01,759.38 732.69,759.38 743.37,747.5 754.06,759.38 764.74,752.5 775.42,752.5 786.1,754.38 796.78,756.25 807.47,756.25 818.15,757.5 828.83,753.12 839.51,759.38 850.19,754.38 860.88,744.38 871.56,756.25 882.24,758.12 892.92,752.5 903.6,742.5 914.29,744.38 924.97,755.0 935.65,753.12 946.33,749.38 957.01,745.62 967.7,754.38 978.38,759.38 989.06,750.62 999.74,752.5 1010.42,751.25 1021.11,747.5 1031.79,742.5 1042.47,746.25 1053.15,744.38 1063.83,758.12 1074.52,747.5 1085.2,749.38 1095.88,751.25 1106.56,747.5 1117.24,745.62 1127.93,749.38 1138.61,742.5 1149.29,742.5 1159.97,747.5 1170.65,747.5 1181.34,744.38 1192.02,771.25 1202.7,751.25 1213.38,744.38 1224.06,747.5 1234.75,739.38 1245.43,729.38 1256.11,739.38 1266.79,731.25 1277.47,720.62 1288.16,741.25 1298.84,732.5 1309.52,727.5 1320.2,729.38 1330.88,726.25 1341.57,724.38 1352.25,726.25 1362.93,722.5 1373.61,717.5 1384.29,707.5 1394.98,714.38 1405.66,718.12 1416.34,714.38 1427.02,712.5 1437.7,709.38 1448.39,711.25 1459.07,704.38 1469.75,713.12 1480.43,704.38 1491.11,694.38 1501.8,699.38 1512.48,704.07 1523.16,717.5 1533.84,694.38 1544.52,702.5 1555.21,694.38 1565.89,699.38 1576.57,697.5 1587.25,706.25 1597.93,689.38 1608.62,696.25 1619.3,684.38 1629.98,674.38 1640.66,685.62 1651.34,696.25 1662.03,696.25 1672.71,686.25 1683.39,676.25 1694.07,682.81 1704.75,682.81 1715.44,688.12 1726.12,681.25 1736.8,677.81 1747.48,686.25 1758.16,668.12 1768.85,694.38 1779.53,679.38 1790.21,684.38 1800.89,686.25 1811.57,679.38 1822.26,698.12 1832.94,687.5 1843.62,687.5 1854.3,693.12" fill="none" stroke="#4d6da3" stroke-width="3.55" stroke-linejoin="round" stroke-linecap="round"/>
<circle cx="134.5" cy="766.5" r="4.45"/>
<circle cx="145.18" cy="774.62" r="4.45"/>
<circle cx="155.86" cy="772.5" r="4.45"/>
<circle cx="166.55" cy="782.5" r="4.45"/>
<circle cx="177.23" cy="786.25" r="4.45"/>
<circle cx="187.91" cy="777.75" r="4.45"/>
<circle cx="198.59" cy="779.38" r="4.45"/>
<circle cx="209.27" cy="775.88" r="4.45"/>
<circle cx="219.96" cy="772.5" r="4.45"/>
<circle cx="230.64" cy="767.88" r="4.45"/>
<circle cx="241.32" cy="776.25" r="4.45"/>
<circle cx="252.0" cy="778.12" r="4.45"/>
<circle cx="262.68" cy="769.38" r="4.45"/>
<circle cx="273.37" cy="779.75" r="4.45"/>
<circle cx="284.05" cy="774.38" r="4.45"/>
<circle cx="294.73" cy="766.25" r="4.45"/>
<circle cx="305.41" cy="774.38" r="4.45"/>
<circle cx="316.09" cy="768.12" r="4.45"/>
<circle cx="326.78" cy="772.5" r="4.45"/>
<circle cx="337.46" cy="766.25" r="4.45"/>
<circle cx="348.14" cy="774.62" r="4.45"/>
<circle cx="358.82" cy="772.5" r="4.45"/>
<circle cx="369.5" cy="778.12" r="4.45"/>
<circle cx="380.19" cy="776.25" r="4.45"/>
<circle cx="390.87" cy="772.5" r="4.45"/>
<circle cx="401.55" cy="771.25" r="4.45"/>
<circle cx="412.23" cy="765.62" r="4.45"/>
<circle cx="422.91" cy="768.12" r="4.45"/>
<circle cx="433.6" cy="775.0" r="4.45"/>
<circle cx="444.28" cy="774.38" r="4.45"/>
<circle cx="454.96" cy="778.12" r="4.45"/>
<circle cx="465.64" cy="768.12" r="4.45"/>
<circle cx="476.32" cy="771.25" r="4.45"/>
<circle cx="487.01" cy="763.75" r="4.45"/>
<circle cx="497.69" cy="768.12" r="4.45"/>
<circle cx="508.37" cy="759.38" r="4.45"/>
<circle cx="519.05" cy="761.25" r="4.45"/>
<circle cx="529.73" cy="768.12" r="4.45"/>
<circle cx="540.42" cy="757.5" r="4.45"/>
<circle cx="551.1" cy="756.88" r="4.45"/>
<circle cx="561.78" cy="768.12" r="4.45"/>
<circle cx="572.46" cy="775.0" r="4.45"/>
<circle cx="583.14" cy="768.12" r="4.45"/>
<circle cx="593.83" cy="773.12" r="4.45"/>
<circle cx="604.51" cy="766.25" r="4.45"/>
<circle cx="615.19" cy="766.88" r="4.45"/>
<circle cx="625.87" cy="758.75" r="4.45"/>
<circle cx="636.55" cy="769.38" r="4.45"/>
<circle cx="647.24" cy="755.62" r="4.45"/>
<circle cx="657.92" cy="753.75" r="4.45"/>
<circle cx="668.6" cy="759.38" r="4.45"/>
<circle cx="679.28" cy="757.5" r="4.45"/>
<circle cx="689.96" cy="761.25" r="4.45"/>
<circle cx="700.65" cy="762.5" r="4.45"/>
<circle cx="711.33" cy="762.5" r="4.45"/>
<circle cx="722.01" cy="759.38" r="4.45"/>
<circle cx="732.69" cy="759.38" r="4.45"/>
<circle cx="743.37" cy="747.5" r="4.45"/>
<circle cx="754.06" cy="759.38" r="4.45"/>
<circle cx="764.74" cy="752.5" r="4.45"/>
<circle cx="775.42" cy="752.5" r="4.45"/>
<circle cx="786.1" cy="754.38" r="4.45"/>
<circle cx="796.78" cy="756.25" r="4.45"/>
<circle cx="807.47" cy="756.25" r="4.45"/>
<circle cx="818.15" cy="757.5" r="4.45"/>
<circle cx="828.83" cy="753.12" r="4.45"/>
<circle cx="839.51" cy="759.38" r="4.45"/>
<circle cx="850.19" cy="754.38" r="4.45"/>
<circle cx="860.88" cy="744.38" r="4.45"/>
<circle cx="871.56" cy="756.25" r="4.45"/>
<circle cx="882.24" cy="758.12" r="4.45"/>
<circle cx="892.92" cy="752.5" r="4.45"/>
<circle cx="903.6" cy="742.5" r="4.45"/>
<circle cx="914.29" cy="744.38" r="4.45"/>
<circle cx="924.97" cy="755.0" r="4.45"/>
<circle cx="935.65" cy="753.12" r="4.45"/>
<circle cx="946.33" cy="749.38" r="4.45"/>
<circle cx="957.01" cy="745.62" r="4.45"/>
<circle cx="967.7" cy="754.38" r="4.45"/>
<circle cx="978.38" cy="759.38" r="4.45"/>
<circle cx="989.06" cy="750.62" r="4.45"/>
<circle cx="999.74" cy="752.5" r="4.45"/>
<circle cx="1010.42" cy="751.25" r="4.45"/>
<circle cx="1021.11" cy="747.5" r="4.45"/>
<circle cx="1031.79" cy="742.5" r="4.45"/>
<circle cx="1042.47" cy="746.25" r="4.45"/>
<circle cx="1053.15" cy="744.38" r="4.45"/>
<circle cx="1063.83" cy="758.12" r="4.45"/>
<circle cx="1074.52" cy="747.5" r="4.45"/>
<circle cx="1085.2" cy="749.38" r="4.45"/>
<circle cx="1095.88" cy="751.25" r="4.45"/>
<circle cx="1106.56" cy="747.5" r="4.45"/>
<circle cx="1117.24" cy="745.62" r="4.45"/>
<circle cx="1127.93" cy="749.38" r="4.45"/>
<circle cx="1138.61" cy="742.5" r="4.45"/>
<circle cx="1149.29" cy="742.5" r="4.45"/>
<circle cx="1159.97" cy="747.5" r="4.45"/>
<circle cx="1170.65" cy="747.5" r="4.45"/>
<circle cx="1181.34" cy="744.38" r="4.45"/>
<circle cx="1192.02" cy="771.25" r="4.45"/>
<circle cx="1202.7" cy="751.25" r="4.45"/>
<circle cx="1213.38" cy="744.38" r="4.45"/>
<circle cx="1224.06" cy="747.5" r="4.45"/>
<circle cx="1234.75" cy="739.38" r="4.45"/>
<circle cx="1245.43" cy="729.38" r="4.45"/>
<circle cx="1256.11" cy="739.38" r="4.45"/>
<circle cx="1266.79" cy="731.25" r="4.45"/>
<circle cx="1277.47" cy="720.62" r="4.45"/>
<circle cx="1288.16" cy="741.25" r="4.45"/>
<circle cx="1298.84" cy="732.5" r="4.45"/>
<circle cx="1309.52" cy="727.5" r="4.45"/>
<circle cx="1320.2" cy="729.38" r="4.45"/>
<circle cx="1330.88" cy="726.25" r="4.45"/>
<circle cx="1341.57" cy="724.38" r="4.45"/>
<circle cx="1352.25" cy="726.25" r="4.45"/>
<circle cx="1362.93" cy="722.5" r="4.45"/>
<circle cx="1373.61" cy="717.5" r="4.45"/>
<circle cx="1384.29" cy="707.5" r="4.45"/>
<circle cx="1394.98" cy="714.38" r="4.45"/>
<circle cx="1405.66" cy="718.12" r="4.45"/>
<circle cx="1416.34" cy="714.38" r="4.45"/>
<circle cx="1427.02" cy="712.5" r="4.45"/>
<circle cx="1437.7" cy="709.38" r="4.45"/>
<circle cx="1448.39" cy="711.25" r="4.45"/>
<circle cx="1459.07" cy="704.38" r="4.45"/>
<circle cx="1469.75" cy="713.12" r="4.45"/>
<circle cx="1480.43" cy="704.38" r="4.45"/>
<circle cx="1491.11" cy="694.38" r="4.45"/>
<circle cx="1501.8" cy="699.38" r="4.45"/>
<circle cx="1512.48" cy="704.07" r="4.45"/>
<circle cx="1523.16" cy="717.5" r="4.45"/>
<circle cx="1533.84" cy="694.38" r="4.45"/>
<circle cx="1544.52" cy="702.5" r="4.45"/>
<circle cx="1555.21" cy="694.38" r="4.45"/>
<circle cx="1565.89" cy="699.38" r="4.45"/>
<circle cx="1576.57" cy="697.5" r="4.45"/>
<circle cx="1587.25" cy="706.25" r="4.45"/>
<circle cx="1597.93" cy="689.38" r="4.45"/>
<circle cx="1608.62" cy="696.25" r="4.45"/>
<circle cx="1619.3" cy="684.38" r="4.45"/>
<circle cx="1629.98" cy="674.38" r="4.45"/>
<circle cx="1640.66" cy="685.62" r="4.45"/>
<circle cx="1651.34" cy="696.25" r="4.45"/>
<circle cx="1662.03" cy="696.25" r="4.45"/>
<circle cx="1672.71" cy="686.25" r="4.45"/>
<circle cx="1683.39" cy="676.25" r="4.45"/>
<circle cx="1694.07" cy="682.81" r="4.45"/>
<circle cx="1704.75" cy="682.81" r="4.45"/>
<circle cx="1715.44" cy="688.12" r="4.45"/>
<circle cx="1726.12" cy="681.25" r="4.45"/>
<circle cx="1736.8" cy="677.81" r="4.45"/>
<circle cx="1747.48" cy="686.25" r="4.45"/>
<circle cx="1758.16" cy="668.12" r="4.45"/>
<circle cx="1768.85" cy="694.38" r="4.45"/>
<circle cx="1779.53" cy="679.38" r="4.45"/>
<circle cx="1790.21" cy="684.38" r="4.45"/>
<circle cx="1800.89" cy="686.25" r="4.45"/>
<circle cx="1811.57" cy="679.38" r="4.45"/>
<circle cx="1822.26" cy="698.12" r="4.45"/>
<circle cx="1832.94" cy="687.5" r="4.45"/>
<circle cx="1843.62" cy="687.5" r="4.45"/>
<circle cx="1854.3" cy="693.12" r="4.45"/>
</g>
<defs><linearGradient id="ag" gradientUnits="userSpaceOnUse" x1="1642" x2="1863" y1="0" y2="0"><stop offset="0" stop-color="#cf2020"/><stop offset="1" stop-color="#ff1a14"/></linearGradient></defs>
<g stroke="url(#ag)" stroke-width="3.6" fill="none" stroke-linecap="round" stroke-linejoin="round"><path d="M1642 610.8 L1862.5 629.6"/><path d="M1854.4 623.6 L1863 629.8 L1853.4 635.8"/></g>
<g id="logo" transform="translate(1702 730) scale(0.11111)">
<circle cx="545" cy="550" r="500" fill="#000"/>
<path d="M541 93 A457 457 0 0 1 541 1007 Z" fill="#fff"/>
<path d="M700 765 L870 880 L905 835 L960 760 A457 457 0 0 1 605 1004 Z" fill="#000"/>
<g fill="none" stroke-linejoin="round">
<path d="M469.0 196.6 L481.0 199.5 L478.1 213.7 L465.9 211.7 L460.6 219.6 L467.0 230.2 L455.0 238.2 L447.7 228.1 L438.4 230.0 L435.5 242.0 L421.3 239.1 L423.3 226.9 L415.4 221.6 L404.8 228.0 L396.8 216.0 L406.9 208.7 L405.0 199.4 L393.0 196.5 L395.9 182.3 L408.1 184.3 L413.4 176.4 L407.0 165.8 L419.0 157.8 L426.3 167.9 L435.6 166.0 L438.5 154.0 L452.7 156.9 L450.7 169.1 L458.6 174.4 L469.2 168.0 L477.2 180.0 L467.1 187.3 Z" stroke="#fff" stroke-width="9"/>
<circle cx="437" cy="198" r="17" stroke="#fff" stroke-width="8"/>
</g>
<path d="M541 212 C480 212 425 232 398 262 L410 290 L380 312 L392 345 L366 372 L384 410 L362 452 L372 500 L360 540 L392 585 L398 640 L430 690 L440 745 L480 790 L541 812 L600 800 L640 815 C690 740 722 640 732 560 C742 470 735 380 700 310 C665 245 610 212 541 212 Z" fill="#e2001a"/>
<path d="M398 262 L440 250 L450 300 L405 330 L380 312 L410 290 Z" fill="#000"/>
<path d="M541 300 C575 360 628 480 628 590 C628 690 590 770 541 808 Z" fill="#000"/>
<path d="M345 545 L400 560 L445 700 L470 790 L541 815 L541 1010 L470 1003 L440 760 Z" fill="#000"/>
<path d="M212 870 L335 772 L432 692 L468 1000 A457 457 0 0 1 212 870 Z" fill="#e2001a"/>
<path d="M541 815 L632 745 L668 830 L604 1004 L541 1007 Z" fill="#fff"/>
<path d="M700 310 C735 380 742 470 732 560 L745 560 L745 330 Z" fill="#fff"/>
<path d="M541 826 L590 874 L541 922 L492 874 Z" fill="#e2001a"/>
<path d="M470 790 L541 826 L492 874 Z" fill="#000"/>
<g fill="none" stroke="#e2001a" stroke-width="33" stroke-linejoin="miter">
<path d="M128 772 H180 V365 L308 300 V540"/>
<path d="M240 830 V590 L318 545 V790"/>
</g>
<path d="M205 400 L285 360 V560 L222 590 V770 L205 770 Z" fill="none"/>
<path d="M258 620 V850" stroke="#000" stroke-width="22"/>
<path d="M352 462 L425 480" stroke="#000" stroke-width="10"/>
<circle cx="472" cy="482" r="40" fill="#e2001a" stroke="#000" stroke-width="20"/>
<path d="M505 482 H545" stroke="#000" stroke-width="12"/>
<path d="M599.2 459.4 A30 30 0 1 0 599.2 508.6" fill="none" stroke="#fff" stroke-width="13"/>
<g fill="none" stroke="#000" stroke-linejoin="miter">
<path d="M752 395 L888 498 V815 L925 835" stroke-width="26"/>
<path d="M750 395 V790" stroke-width="14"/>
<path d="M752 590 L826 520 V830" stroke-width="28"/>
<path d="M772 600 V800" stroke-width="14"/>
</g>
<path d="M812 815 L870 868 L900 838" fill="none" stroke="#fff" stroke-width="12"/>
<g fill="none" stroke-linejoin="round">
<path d="M719.7 303.1 L732.9 305.0 L731.4 320.3 L718.0 319.4 L713.2 328.4 L721.3 339.0 L709.4 348.8 L700.5 338.7 L690.9 341.7 L689.0 354.9 L673.7 353.4 L674.6 340.0 L665.6 335.2 L655.0 343.3 L645.2 331.4 L655.3 322.5 L652.3 312.9 L639.1 311.0 L640.6 295.7 L654.0 296.6 L658.8 287.6 L650.7 277.0 L662.6 267.2 L671.5 277.3 L681.1 274.3 L683.0 261.1 L698.3 262.6 L697.4 276.0 L706.4 280.8 L717.0 272.7 L726.8 284.6 L716.7 293.5 Z" stroke="#fff" stroke-width="10"/>
<path d="M808.9 282.3 L828.9 287.9 L823.6 314.3 L803.0 311.6 L792.7 326.9 L802.9 345.0 L780.5 359.9 L767.8 343.4 L749.7 346.9 L744.1 366.9 L717.7 361.6 L720.4 341.0 L705.1 330.7 L687.0 340.9 L672.1 318.5 L688.6 305.8 L685.1 287.7 L665.1 282.1 L670.4 255.7 L691.0 258.4 L701.3 243.1 L691.1 225.0 L713.5 210.1 L726.2 226.6 L744.3 223.1 L749.9 203.1 L776.3 208.4 L773.6 229.0 L788.9 239.3 L807.0 229.1 L821.9 251.5 L805.4 264.2 Z" stroke="#000" stroke-width="12"/>
<circle cx="747" cy="285" r="34" stroke="#000" stroke-width="11"/>
<path d="M944.0 539.0 L953.0 541.1 L950.9 551.4 L941.8 549.9 L938.0 555.5 L942.8 563.4 L934.1 569.2 L928.7 561.7 L922.0 563.0 L919.9 572.0 L909.6 569.9 L911.1 560.8 L905.5 557.0 L897.6 561.8 L891.8 553.1 L899.3 547.7 L898.0 541.0 L889.0 538.9 L891.1 528.6 L900.2 530.1 L904.0 524.5 L899.2 516.6 L907.9 510.8 L913.3 518.3 L920.0 517.0 L922.1 508.0 L932.4 510.1 L930.9 519.2 L936.5 523.0 L944.4 518.2 L950.2 526.9 L942.7 532.3 Z" stroke="#000" stroke-width="9"/>
<circle cx="921" cy="540" r="11" stroke="#000" stroke-width="6"/>
</g>
</g>
<text transform="translate(1765.3 869.4) scale(1.39 1)" text-anchor="middle" font-size="17" font-weight="900" letter-spacing="4.15">福嶋総研</text>

</svg></body></html>
